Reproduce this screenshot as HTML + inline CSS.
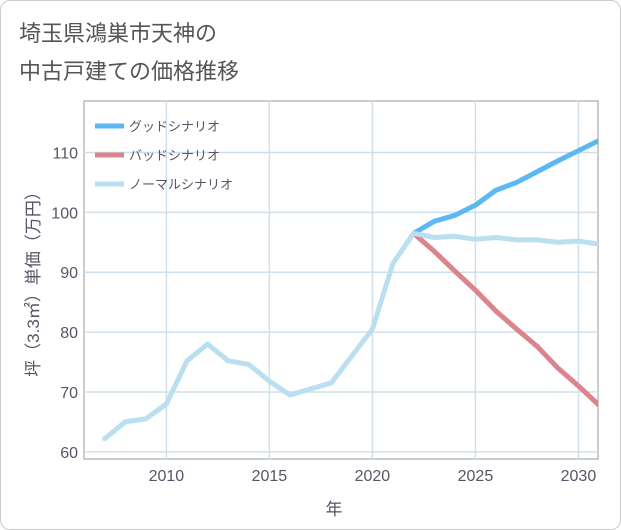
<!DOCTYPE html>
<html><head><meta charset="utf-8"><style>
body{margin:0;background:#fff;}
#wrap{position:absolute;left:0;top:0;width:619px;height:528px;border:1px solid #ccc;border-radius:10px;background:#fff;overflow:hidden;font-family:"Liberation Sans","Noto Sans CJK JP",sans-serif;}
#title{position:absolute;left:18px;top:14px;font-size:22px;line-height:38px;color:#555;}
</style></head><body>
<div id="wrap">
<div id="title">埼玉県鴻巣市天神の<br>中古戸建ての価格推移</div>
<svg id="chart" width="621" height="530" style="position:absolute;left:0;top:0"></svg>
</div>
<script>
const years=[2007,2008,2009,2010,2011,2012,2013,2014,2015,2016,2017,2018,2019,2020,2021,2022];
const hist=[62.2,65,65.5,68,75.2,78,75.2,74.6,71.8,69.5,70.5,71.5,76,80.5,91.5,96.5];
const futYears=[2022,2023,2024,2025,2026,2027,2028,2029,2030,2031];
const normal=[96.5,95.8,96,95.5,95.8,95.4,95.4,95,95.2,94.7];
const good=[96.5,98.5,99.5,101.2,103.7,105,106.8,108.6,110.3,112];
const bad=[96.5,93.5,90.2,87,83.5,80.5,77.6,74,71,67.8];
const xTicks=[2010,2015,2020,2025,2030];
const yTicks=[60,70,80,90,100,110];
const legendLabels=["グッドシナリオ","バッドシナリオ","ノーマルシナリオ"];
const NS="http://www.w3.org/2000/svg";
const svg=document.getElementById('chart');
const L=83,R=597,T=100,B=458;
const x=v=>L+(v-2006)*(R-L)/24.95;
const y=v=>B-(v-58.8)*(B-T)/(118.6-58.8);
function el(t,a,p){const e=document.createElementNS(NS,t);for(const k in a)e.setAttribute(k,a[k]);(p||svg).appendChild(e);return e;}
const defs=el('defs',{});const cp=el('clipPath',{id:'cp'},defs);el('rect',{x:L,y:T,width:R-L,height:B-T},cp);
const frame=el('rect',{x:L,y:T,width:R-L,height:B-T,fill:'#fff',stroke:'#999','stroke-width':1});


xTicks.forEach(t=>{
 const g=el('line',{x1:x(t),x2:x(t),y1:T,y2:B,stroke:'#cfe0ec','stroke-width':1.5});
 
 
 const tx=el('text',{x:x(t),y:B+22,'text-anchor':'middle','font-size':16,fill:'#556'});tx.textContent=t;
 
 
});
yTicks.forEach(t=>{
 const g=el('line',{x1:L,x2:R,y1:y(t),y2:y(t),stroke:'#cfe0ec','stroke-width':1.5});
 
 
 const tx=el('text',{x:L-6,y:y(t)+6,'text-anchor':'end','font-size':16,fill:'#556'});tx.textContent=t;
 
 
});
function line(xs,vs,c,name){
 const p=el('polyline',{points:xs.map((v,i)=>x(v)+','+y(vs[i])).join(' '),fill:'none',stroke:c,'stroke-width':5,'stroke-linejoin':'round','stroke-linecap':'round','clip-path':'url(#cp)'});
 
 
}
line(futYears,good,'#5bb8f2','good-scenario-line');
line(futYears,bad,'#dc848c','bad-scenario-line');
line(futYears,normal,'#b9dff0','normal-scenario-line');
line(years,hist,'#b9dff0','historical-line');
const lc=['#5bb8f2','#dc848c','#b9dff0'];
legendLabels.forEach((s,i)=>{
 const yy=125+i*29;
 const g=el('g',{});
 
 
 el('line',{x1:94,x2:123,y1:yy,y2:yy,stroke:lc[i],'stroke-width':5},g);
 const t=el('text',{x:128,y:yy+5,'font-size':13,fill:'#556'},g);t.textContent=s;
});
const xt=el('text',{x:333,y:514,'text-anchor':'middle','font-size':17,fill:'#556'});xt.textContent='年';


const yt=el('text',{x:0,y:0,'text-anchor':'middle','font-size':17,fill:'#556',transform:'translate(38,'+((T+B)/2)+') rotate(-90)'});yt.textContent='坪（3.3㎡）単価（万円）';


</script>
</body></html>
